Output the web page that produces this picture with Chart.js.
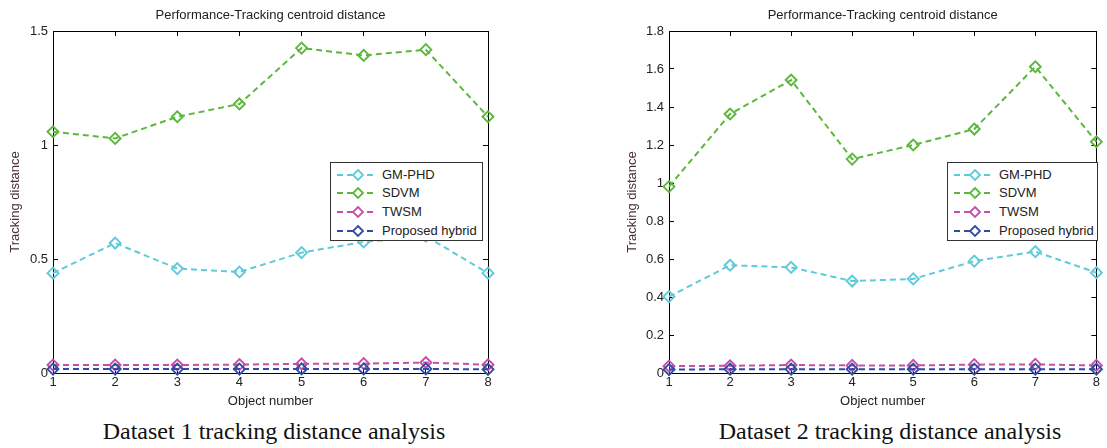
<!DOCTYPE html>
<html>
<head>
<meta charset="utf-8">
<script src="https://cdn.jsdelivr.net/npm/chart.js@4.4.1/dist/chart.umd.min.js"></script>
<style>
html,body{margin:0;padding:0;background:#fff;width:1107px;height:448px;overflow:hidden;position:relative;font-family:"Liberation Sans",Arial,sans-serif;}
canvas{position:absolute;top:0;}
.caption{position:absolute;top:419px;font-family:"Liberation Serif","Times New Roman",serif;font-size:24px;line-height:24px;white-space:nowrap;color:#111;transform:translateX(-50%);}
.legend{position:absolute;top:162px;height:79px;border:1px solid #333;background:#fff;box-sizing:border-box;}
.legend .row{position:absolute;left:0;height:18px;width:100%;}
.legend svg{position:absolute;left:6px;top:2px;}
.legend span{position:absolute;left:51px;top:1px;font-size:13px;line-height:16px;color:#222;white-space:nowrap;}
</style>
</head>
<body>
<canvas id="c1" width="560" height="415" style="left:0px"></canvas>
<canvas id="c2" width="491" height="415" style="left:616px"></canvas>
<div class="caption" style="left:274px">Dataset 1 tracking distance analysis</div>
<div class="caption" style="left:890px">Dataset 2 tracking distance analysis</div>
<div class="legend" id="lg1" style="left:330px;width:153px"></div>
<div class="legend" id="lg2" style="left:947px;width:151px"></div>
<script>
// ---- data ----
const objectNumbers = ['1','2','3','4','5','6','7','8'];
const seriesNames = ['GM-PHD','SDVM','TWSM','Proposed hybrid'];
const seriesColors = ['#5ecbdb','#5cb83c','#c44fab','#2e4ea6'];

const d1GmPhd  = [0.438, 0.570, 0.458, 0.443, 0.528, 0.575, 0.600, 0.438];
const d1Sdvm   = [1.058, 1.029, 1.124, 1.180, 1.425, 1.393, 1.418, 1.124];
const d1Twsm   = [0.035, 0.035, 0.035, 0.037, 0.040, 0.041, 0.046, 0.036];
const d1Hybrid = [0.017, 0.017, 0.017, 0.017, 0.018, 0.018, 0.018, 0.016];

const d2GmPhd  = [0.402, 0.567, 0.556, 0.484, 0.495, 0.589, 0.639, 0.528];
const d2Sdvm   = [0.981, 1.363, 1.542, 1.126, 1.200, 1.284, 1.612, 1.217];
const d2Twsm   = [0.036, 0.038, 0.042, 0.040, 0.040, 0.044, 0.045, 0.040];
const d2Hybrid = [0.018, 0.020, 0.020, 0.020, 0.020, 0.020, 0.020, 0.020];

const d1YMax = 1.5, d1YStep = 0.5;
const d2YMax = 1.8, d2YStep = 0.2;

const chartTitle = 'Performance-Tracking centroid distance';
const xTitle = 'Object number';
const yTitle = 'Tracking distance';

// ---- drawing ----
const FONT = '"Liberation Sans", Arial, sans-serif';

const titlePlugin = {
  id: 'matTitle',
  afterDraw(chart) {
    const {ctx, chartArea} = chart;
    ctx.save();
    ctx.font = '13px ' + FONT;
    ctx.fillStyle = '#222';
    ctx.textAlign = 'center';
    ctx.textBaseline = 'middle';
    ctx.fillText(chartTitle, (chartArea.left + chartArea.right) / 2, 15);
    ctx.restore();
  }
};

function makeDatasets(values) {
  return values.map((v, i) => ({
    label: seriesNames[i],
    data: v,
    borderColor: seriesColors[i],
    backgroundColor: 'rgba(0,0,0,0)',
    borderWidth: 2,
    borderDash: [6, 4],
    pointStyle: 'rectRot',
    pointRadius: 5.5,
    pointBorderWidth: 1.9,
    pointBorderColor: seriesColors[i],
    pointBackgroundColor: 'rgba(255,255,255,0)',
    tension: 0,
    clip: false,
    order: 4 - i
  }));
}

function fmtTick(v) {
  return String(parseFloat(Number(v).toFixed(3)));
}

function makeChart(id, values, yMax, yStep, L) {
  const gridCommon = {drawOnChartArea: false, drawTicks: true, tickLength: -5, color: '#000', tickColor: '#000', lineWidth: 1};
  const borderCommon = {display: true, color: '#000', width: 1};
  return new Chart(document.getElementById(id), {
    type: 'line',
    data: {labels: objectNumbers, datasets: makeDatasets(values)},
    options: {
      responsive: false,
      animation: false,
      devicePixelRatio: 1,
      layout: {padding: {top: L.top, right: L.padRight, left: 0, bottom: 0}},
      plugins: {legend: {display: false}, tooltip: {enabled: false}, title: {display: false}},
      scales: {
        x: {
          type: 'category', position: 'bottom', offset: false,
          grid: gridCommon, border: borderCommon,
          ticks: {color: '#222', font: {family: FONT, size: 13}, padding: 7, maxRotation: 0, autoSkip: false},
          title: {display: true, text: xTitle, color: '#222', font: {family: FONT, size: 13}, padding: {top: 0, bottom: 5.5}},
          afterFit: s => { s.height = L.xAxisH; }
        },
        x2: {
          type: 'category', axis: 'x', position: 'top', offset: false, labels: objectNumbers,
          grid: gridCommon, border: borderCommon,
          ticks: {display: false},
          afterFit: s => { s.height = 0; }
        },
        y: {
          type: 'linear', position: 'left', min: 0, max: yMax,
          grid: gridCommon, border: borderCommon,
          ticks: {stepSize: yStep, color: '#222', font: {family: FONT, size: 13}, padding: 10, callback: fmtTick},
          title: {display: true, text: yTitle, color: '#4a2d3f', font: {family: FONT, size: 13}, padding: {top: L.yTitlePad, bottom: 0}},
          afterFit: s => { s.width = 53; }
        },
        y2: {
          type: 'linear', axis: 'y', position: 'right', min: 0, max: yMax,
          grid: gridCommon, border: borderCommon,
          ticks: {display: false, stepSize: yStep},
          afterFit: s => { s.width = 0; }
        }
      }
    },
    plugins: [titlePlugin]
  });
}

makeChart('c1', [d1GmPhd, d1Sdvm, d1Twsm, d1Hybrid], d1YMax, d1YStep,
  {top: 31, padRight: 560 - 488, xAxisH: 415 - 373, yTitlePad: 7.2});
makeChart('c2', [d2GmPhd, d2Sdvm, d2Twsm, d2Hybrid], d2YMax, d2YStep,
  {top: 31, padRight: 491 - (1103 - 616), xAxisH: 415 - 373, yTitlePad: 8.2});

// ---- HTML legends ----
function buildLegend(elId) {
  const el = document.getElementById(elId);
  seriesNames.forEach((name, i) => {
    const row = document.createElement('div');
    row.className = 'row';
    row.style.top = (2.5 + i * 18.67) + 'px';
    const c = seriesColors[i];
    row.innerHTML =
      '<svg width="40" height="14" viewBox="0 0 40 14">' +
      '<line x1="0" y1="7" x2="40" y2="7" stroke="' + c + '" stroke-width="2" stroke-dasharray="6 4"/>' +
      '<polygon points="21,2 26,7 21,12 16,7" fill="#fff" stroke="' + c + '" stroke-width="1.8"/>' +
      '</svg><span>' + name + '</span>';
    el.appendChild(row);
  });
}
buildLegend('lg1');
buildLegend('lg2');
</script>
</body>
</html>
